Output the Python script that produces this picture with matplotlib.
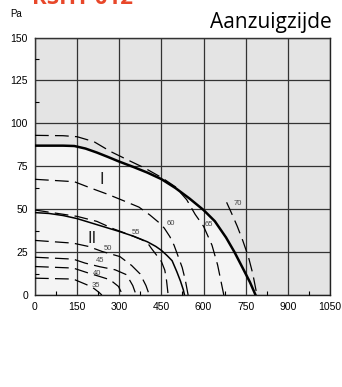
import matplotlib.pyplot as plt
from matplotlib.ticker import MultipleLocator

plt.rcParams["font.family"] = ["Liberation Sans", "DejaVu Sans"]

# ventilator curves (Pa vs m3/h)
curve_I_x = [0, 100, 140, 180, 220, 260, 300, 350, 400, 450, 500, 550, 600, 640, 680, 710, 740, 765, 785]
curve_I_y = [87, 87, 86.8, 85.3, 83, 80.4, 77.7, 74.6, 71.3, 67.5, 62.3, 56.2, 49.5, 43, 33.5, 25, 15.5, 7.5, 0]

curve_II_x = [0, 50, 100, 150, 200, 250, 300, 350, 400, 430, 450, 470, 488, 505, 518, 528, 532]
curve_II_y = [48, 47.5, 46.3, 44.5, 42, 39.5, 37, 34.3, 31, 28.3, 26, 23, 20, 13.5, 8, 3, 0]

# geluidslijnen dB(A)
db_lines = {
    "35": ([0, 136, 184, 210, 228, 238], [9.8, 9.3, 6, 3.8, 1.5, 0]),
    "40": ([0, 136, 190, 230, 267, 297, 312], [16.6, 15.7, 12.8, 10.8, 8.9, 5, 0]),
    "45": ([0, 136, 178, 230, 285, 326, 348, 360], [22, 20.9, 18.6, 16.5, 14.7, 11.8, 5.5, 0]),
    "50": ([0, 136, 190, 240, 302, 344, 374, 395, 407], [31.8, 30.2, 28.3, 25.3, 22.4, 17.2, 12.3, 5.5, 0]),
    "55": ([0, 150, 220, 280, 330, 380, 400, 415, 430, 450, 462, 468, 474],
           [49.5, 45.8, 42.9, 38.5, 35.5, 32.2, 30.5, 27, 23.8, 19.5, 14.5, 8.7, 0]),
    "60": ([0, 100, 140, 200, 260, 320, 370, 409, 439, 460, 480, 495, 510, 524, 535, 545],
           [67.4, 66.4, 66, 62.2, 58.6, 54.6, 51.2, 46.6, 42.5, 39, 34, 29, 22.3, 16, 8.7, 0]),
    "65": ([0, 100, 150, 210, 270, 340, 390, 450, 500, 540, 570, 600, 630, 650, 662, 672],
           [93, 92.8, 92.2, 89.3, 83.5, 77.9, 74, 68.5, 63, 55.5, 47, 40, 29, 17.5, 8, 0]),
    "70": ([682, 700, 720, 740, 760, 775, 790], [54, 47.5, 40, 31.5, 22, 12.5, 0]),
}
db_label_pos = {
    "35": (218, 5.5), "40": (220, 12.8), "45": (233, 20), "50": (258, 27),
    "55": (358, 36.5), "60": (485, 41.4), "65": (618, 41), "70": (722, 53.5),
}

fig = plt.figure(figsize=(3.42, 3.87), dpi=100)
ax = fig.add_axes([0.1023, 0.2377, 0.8626, 0.6654])
ax.set_facecolor("#e4e4e4")

# lichter gebied onder curve I
ax.fill_between(curve_I_x, curve_I_y, 0, color="#f4f4f4", zorder=0.5, lw=0)

for name, (xs, ys) in db_lines.items():
    ax.plot(xs, ys, color="black", lw=0.9, dashes=(11, 5), zorder=3)
    lx, ly = db_label_pos[name]
    ax.text(lx, ly, name, fontsize=5.5, color="#444444", ha="center", va="center", zorder=4)

ax.plot(curve_I_x, curve_I_y, color="black", lw=1.8, zorder=5)
ax.plot(curve_II_x, curve_II_y, color="black", lw=1.1, zorder=5)

ax.text(237, 67.5, "I", fontsize=12, ha="center", va="center", color="#222222")
ax.text(202, 33, "II", fontsize=12, ha="center", va="center", color="#222222")

ax.set_xlim(0, 1050)
ax.set_ylim(0, 150)
ax.xaxis.set_major_locator(MultipleLocator(150))
ax.yaxis.set_major_locator(MultipleLocator(25))
ax.xaxis.set_minor_locator(MultipleLocator(75))
ax.yaxis.set_minor_locator(MultipleLocator(12.5))
ax.tick_params(which="major", length=0, labelsize=7.5, pad=5)
ax.tick_params(which="minor", direction="in", length=3, width=0.8)
ax.grid(which="major", color="#333333", lw=0.9, zorder=1)
ax.set_axisbelow(False)
for s in ax.spines.values():
    s.set_color("#222222")
    s.set_linewidth(1)

fig.text(0.047, 0.965, "Pa", fontsize=7, ha="center", va="center")
fig.text(0.971, 0.928, "Aanzuigzijde", fontsize=15, ha="right", va="baseline",
         family=["Open Sans", "DejaVu Sans"])
# titel valt in het origineel half buiten beeld
fig.text(0.095, 0.989, "RSHT 012", fontsize=16, fontweight="bold", color="#e8472a",
         va="baseline", family=["Open Sans", "DejaVu Sans"])

fig.savefig("out.png", dpi=100)
